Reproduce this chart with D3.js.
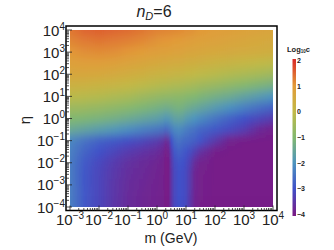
<!DOCTYPE html>
<html>
<head>
<meta charset="utf-8">
<script src="https://cdn.jsdelivr.net/npm/d3@7"></script>
<style>
  body { margin: 0; background: #fff; }
  svg { display: block; font-family: "Liberation Sans", Arial, sans-serif; }
</style>
</head>
<body>
<script>
// grid: log10 m (GeV) columns, log10 eta rows, log10 c values
const logM = [-3, -2.5, -2, -1.5, -1, -0.5, 0, 0.2, 0.3, 0.4, 0.5, 0.6, 0.75, 0.9, 1.0, 1.15, 1.3, 1.5, 2, 2.5, 3, 3.5, 4];
const logEta = [4, 3.5, 3, 2.5, 2, 1.5, 1, 0.5, 0, -0.5, -1, -1.5, -2, -2.5, -3, -3.5, -4];
const logC = [
  [1.35, 1.5, 1.55, 1.5, 1.45, 1.35, 1.25, 1.23, 1.22, 1.21, 1.2, 1.19, 1.17, 1.15, 1.12, 1.1, 1.07, 1.03, 0.95, 0.88, 0.82, 0.76, 0.72],
  [1.2, 1.3, 1.35, 1.3, 1.25, 1.17, 1.07, 1.05, 1.04, 1.03, 1.02, 1.0, 0.98, 0.96, 0.93, 0.9, 0.87, 0.84, 0.78, 0.72, 0.66, 0.6, 0.56],
  [1.05, 1.12, 1.15, 1.12, 1.05, 0.98, 0.88, 0.86, 0.85, 0.84, 0.82, 0.8, 0.78, 0.76, 0.73, 0.71, 0.69, 0.66, 0.6, 0.55, 0.5, 0.45, 0.4],
  [0.85, 0.9, 0.9, 0.85, 0.77, 0.68, 0.58, 0.56, 0.55, 0.53, 0.51, 0.49, 0.47, 0.45, 0.42, 0.4, 0.37, 0.33, 0.24, 0.16, 0.08, 0.0, -0.07],
  [0.65, 0.65, 0.62, 0.55, 0.45, 0.35, 0.25, 0.22, 0.2, 0.19, 0.17, 0.15, 0.13, 0.1, 0.07, 0.04, 0.0, -0.05, -0.15, -0.25, -0.35, -0.45, -0.55],
  [0.3, 0.27, 0.22, 0.14, 0.05, -0.07, -0.18, -0.22, -0.24, -0.26, -0.28, -0.3, -0.32, -0.35, -0.38, -0.42, -0.46, -0.52, -0.65, -0.8, -0.95, -1.1, -1.25],
  [-0.1, -0.15, -0.2, -0.3, -0.4, -0.55, -0.7, -0.74, -0.76, -0.78, -0.8, -0.82, -0.84, -0.88, -0.92, -0.96, -1.0, -1.08, -1.25, -1.4, -1.6, -1.8, -2.0],
  [-0.55, -0.6, -0.68, -0.78, -0.9, -1.05, -1.2, -1.26, -1.3, -1.28, -1.24, -1.2, -1.18, -1.22, -1.3, -1.38, -1.45, -1.55, -1.8, -2.05, -2.3, -2.55, -2.75],
  [-1.0, -1.05, -1.15, -1.25, -1.4, -1.55, -1.7, -1.8, -1.88, -1.85, -1.75, -1.65, -1.6, -1.68, -1.8, -1.9, -2.0, -2.15, -2.45, -2.75, -3.0, -3.2, -3.4],
  [-1.45, -1.6, -1.75, -1.9, -2.1, -2.3, -2.45, -2.55, -2.65, -2.55, -2.35, -2.2, -2.15, -2.25, -2.35, -2.45, -2.55, -2.7, -2.9, -3.1, -3.35, -3.75, -3.92],
  [-2.2, -2.5, -2.75, -2.9, -3.05, -3.2, -3.4, -3.55, -3.75, -3.6, -3.0, -2.65, -2.5, -2.6, -2.65, -2.7, -2.8, -2.95, -3.45, -3.9, -3.97, -3.97, -3.97],
  [-2.3, -2.7, -3.0, -3.2, -3.4, -3.55, -3.7, -3.8, -3.95, -3.85, -3.3, -2.9, -2.75, -2.85, -2.95, -3.1, -3.3, -3.6, -3.95, -3.97, -3.97, -3.97, -3.97],
  [-2.35, -2.85, -3.15, -3.4, -3.6, -3.72, -3.82, -3.88, -4.0, -3.95, -3.45, -3.1, -2.95, -3.0, -3.1, -3.35, -3.7, -3.9, -3.97, -3.97, -3.97, -3.97, -3.97],
  [-2.35, -2.9, -3.2, -3.45, -3.65, -3.75, -3.85, -3.9, -4.0, -3.95, -3.5, -3.15, -3.0, -3.05, -3.15, -3.45, -3.8, -3.92, -3.97, -3.97, -3.97, -3.97, -3.97],
  [-2.33, -2.9, -3.2, -3.48, -3.68, -3.78, -3.86, -3.9, -4.0, -3.95, -3.5, -3.15, -3.0, -3.05, -3.15, -3.45, -3.8, -3.93, -3.97, -3.97, -3.97, -3.97, -3.97],
  [-2.32, -2.88, -3.2, -3.48, -3.7, -3.8, -3.87, -3.9, -4.0, -3.95, -3.5, -3.15, -3.0, -3.05, -3.15, -3.48, -3.82, -3.93, -3.97, -3.97, -3.97, -3.97, -3.97],
  [-2.3, -2.88, -3.2, -3.5, -3.7, -3.8, -3.87, -3.9, -4.0, -3.95, -3.5, -3.15, -3.0, -3.05, -3.15, -3.5, -3.82, -3.94, -3.97, -3.97, -3.97, -3.97, -3.97]
];

// colour bar
const stopValues = [-4, -3, -2, -1, 0, 1, 2];
const stopColors = ['#781c86', '#4050c8', '#4d94bf', '#82b86f', '#c1b946', '#e29c39', '#da2e27'];
const barTicks = [2, 1, 0, -1, -2, -3, -4];

// axis ticks (exponents)
const xTickExps = [-3, -2, -1, 0, 1, 2, 3, 4];
const yTickExps = [4, 3, 2, 1, 0, -1, -2, -3, -4];

const width = 334, height = 250;
const svg = d3.select('body').append('svg')
  .attr('width', width)
  .attr('height', height);

const x = d3.scaleLog().domain([1e-3, 1e4]).range([70, 273]);
const y = d3.scaleLog().domain([1e-4, 1e4]).range([207, 30]);
const color = d3.scaleLinear().domain(stopValues).range(stopColors).clamp(true);

const frame = { left: 66, top: 26, right: 277, bottom: 210.5 };

const defs = svg.append('defs');

defs.append('clipPath').attr('id', 'heatClip')
  .append('rect')
  .attr('x', x.range()[0]).attr('y', y.range()[1])
  .attr('width', x.range()[1] - x.range()[0])
  .attr('height', y.range()[0] - y.range()[1]);

const soft = defs.append('filter').attr('id', 'soft')
  .attr('filterUnits', 'userSpaceOnUse')
  .attr('x', 40).attr('y', 0).attr('width', 260).attr('height', 250);
soft.append('feGaussianBlur').attr('stdDeviation', '0.4 4');

// one horizontal gradient per eta row, stops at the mass columns
const span = x.range()[1] - x.range()[0];
logC.forEach((row, i) => {
  const g = defs.append('linearGradient')
    .attr('id', 'row' + i)
    .attr('gradientUnits', 'userSpaceOnUse')
    .attr('x1', x.range()[0]).attr('x2', x.range()[1])
    .attr('y1', 0).attr('y2', 0);
  g.selectAll('stop')
    .data(row)
    .enter()
    .append('stop')
    .attr('offset', (d, j) => (x(Math.pow(10, logM[j])) - x.range()[0]) / span)
    .attr('stop-color', d => color(d));
});

// row edges halfway between eta rows (outer rows run past the plot, then clipped)
const rowTop = i => i === 0 ? y.range()[1] - 16 : y(Math.pow(10, (logEta[i - 1] + logEta[i]) / 2));
const rowBottom = i => i === logEta.length - 1 ? y.range()[0] + 16 : y(Math.pow(10, (logEta[i] + logEta[i + 1]) / 2));

svg.append('g')
  .attr('clip-path', 'url(#heatClip)')
  .append('g')
  .attr('filter', 'url(#soft)')
  .selectAll('rect')
  .data(logEta)
  .enter()
  .append('rect')
  .attr('x', x.range()[0] - 4)
  .attr('width', span + 8)
  .attr('y', (d, i) => rowTop(i))
  .attr('height', (d, i) => rowBottom(i) - rowTop(i) + 0.5)
  .attr('fill', (d, i) => 'url(#row' + i + ')');

// frame
svg.append('rect')
  .attr('x', frame.left).attr('y', frame.top)
  .attr('width', frame.right - frame.left)
  .attr('height', frame.bottom - frame.top)
  .attr('fill', 'none')
  .attr('stroke', '#000')
  .attr('stroke-width', 1.5);

// log ticks: majors at decades, minors at 2..9
function logTicks(lo, hi) {
  const out = [];
  for (let k = lo; k <= hi; k++) {
    out.push({ v: Math.pow(10, k), major: true });
    if (k < hi) for (let m = 2; m <= 9; m++) out.push({ v: m * Math.pow(10, k), major: false });
  }
  return out;
}

svg.append('g')
  .selectAll('line')
  .data(logTicks(-4, 4))
  .enter()
  .append('line')
  .attr('x1', frame.left)
  .attr('x2', d => frame.left + (d.major ? 6 : 3))
  .attr('y1', d => y(d.v)).attr('y2', d => y(d.v))
  .attr('stroke', '#222')
  .attr('stroke-width', 0.8);

svg.append('g')
  .selectAll('line')
  .data(logTicks(-3, 4))
  .enter()
  .append('line')
  .attr('x1', d => x(d.v)).attr('x2', d => x(d.v))
  .attr('y1', frame.bottom)
  .attr('y2', d => frame.bottom - (d.major ? 5 : 2.5))
  .attr('stroke', '#222')
  .attr('stroke-width', 0.8);

const expText = d => d < 0 ? '\u2212' + (-d) : String(d);

const yLab = svg.append('g')
  .selectAll('text')
  .data(yTickExps)
  .enter()
  .append('text')
  .attr('x', 65)
  .attr('y', d => y(Math.pow(10, d)) + 5.5)
  .attr('text-anchor', 'end')
  .attr('font-size', 15)
  .attr('fill', '#222');
yLab.append('tspan').text('10');
yLab.append('tspan').attr('dy', -6).attr('font-size', 10).text(expText);

const xLab = svg.append('g')
  .selectAll('text')
  .data(xTickExps)
  .enter()
  .append('text')
  .attr('x', d => x(Math.pow(10, d)))
  .attr('y', 225)
  .attr('text-anchor', 'middle')
  .attr('font-size', 15)
  .attr('fill', '#222');
xLab.append('tspan').text('10');
xLab.append('tspan').attr('dy', -6).attr('font-size', 10).text(expText);

// axis labels and title
svg.append('text')
  .attr('x', 171).attr('y', 243)
  .attr('text-anchor', 'middle')
  .attr('font-size', 14)
  .attr('fill', '#222')
  .text('m (GeV)');

svg.append('text')
  .attr('transform', 'translate(30,120) rotate(-90)')
  .attr('text-anchor', 'middle')
  .attr('font-size', 15)
  .attr('fill', '#222')
  .text('η');

const title = svg.append('text')
  .attr('x', 154).attr('y', 17)
  .attr('text-anchor', 'middle')
  .attr('font-size', 16)
  .attr('fill', '#222');
title.append('tspan').attr('font-style', 'italic').text('n');
title.append('tspan').attr('font-style', 'italic').attr('font-size', 11).attr('dy', 3).text('D');
title.append('tspan').attr('dy', -3).text('=6');

// colour legend
const cy = d3.scaleLinear().domain([-4, 2]).range([214.5, 60.5]);
const barGrad = defs.append('linearGradient')
  .attr('id', 'barGrad')
  .attr('gradientUnits', 'userSpaceOnUse')
  .attr('x1', 0).attr('x2', 0)
  .attr('y1', cy(-4)).attr('y2', cy(2));
barGrad.selectAll('stop')
  .data(stopValues)
  .enter()
  .append('stop')
  .attr('offset', (d, i) => i / (stopValues.length - 1))
  .attr('stop-color', d => color(d));

svg.append('rect')
  .attr('x', 292.5).attr('y', cy(2) - 1.5)
  .attr('width', 3.5)
  .attr('height', cy(-4) - cy(2) + 3)
  .attr('fill', 'url(#barGrad)');

svg.append('g')
  .selectAll('text')
  .data(barTicks)
  .enter()
  .append('text')
  .attr('x', 297)
  .attr('y', d => cy(d) + 2.5)
  .attr('font-size', 7)
  .attr('font-weight', 'bold')
  .attr('fill', '#222')
  .text(d => d < 0 ? '\u2212' + (-d) : d);

const legTitle = svg.append('text')
  .attr('x', 287).attr('y', 51.5)
  .attr('font-size', 7.5)
  .attr('font-weight', 'bold')
  .attr('fill', '#222');
legTitle.append('tspan').text('Log');
legTitle.append('tspan').attr('font-size', 4.5).attr('dy', 1.5).text('10');
legTitle.append('tspan').attr('dy', -1.5).text('c');
</script>
</body>
</html>
